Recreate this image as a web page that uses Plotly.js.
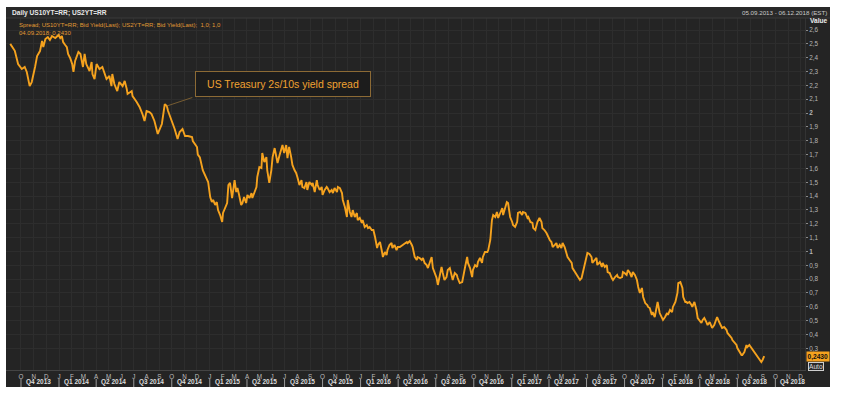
<!DOCTYPE html>
<html><head><meta charset="utf-8">
<script src="https://cdn.plot.ly/plotly-3.0.1.min.js"></script>
<style>html,body{margin:0;padding:0;background:#fff;}#chart{width:845px;height:397px;}</style>
</head><body><div id="chart"></div>
<script>
const dates = [
'2013-09-05','2013-09-16','2013-09-24','2013-10-03','2013-10-10','2013-10-15','2013-10-22','2013-10-27','2013-11-04','2013-11-09',
'2013-11-16','2013-11-21','2013-11-24','2013-11-29','2013-12-05','2013-12-10','2013-12-15','2013-12-23','2013-12-31','2014-01-04',
'2014-01-08','2014-01-11','2014-01-16','2014-01-20','2014-01-23','2014-01-28','2014-02-02','2014-02-05','2014-02-09','2014-02-17',
'2014-02-22','2014-02-26','2014-02-28','2014-03-04','2014-03-08','2014-03-16','2014-03-21','2014-03-23','2014-03-28','2014-04-02',
'2014-04-09','2014-04-16','2014-04-26','2014-05-03','2014-05-08','2014-05-10','2014-05-15','2014-05-22','2014-05-27','2014-06-04',
'2014-06-09','2014-06-14','2014-06-16','2014-06-26','2014-06-28','2014-07-08','2014-07-15','2014-07-22','2014-07-27','2014-08-01',
'2014-08-08','2014-08-13','2014-08-20','2014-08-28','2014-09-07','2014-09-14','2014-09-19','2014-09-22','2014-10-01','2014-10-08',
'2014-10-15','2014-10-20','2014-10-27','2014-11-02','2014-11-09','2014-11-19','2014-11-21','2014-12-01','2014-12-03','2014-12-08',
'2014-12-15','2014-12-25','2014-12-28','2015-01-02','2015-01-06','2015-01-09','2015-01-14','2015-01-18','2015-01-21','2015-01-26',
'2015-01-31','2015-02-02','2015-02-12','2015-02-15','2015-02-19','2015-02-24','2015-02-26','2015-03-02','2015-03-06','2015-03-09',
'2015-03-13','2015-03-18','2015-03-21','2015-03-25','2015-03-30','2015-04-02','2015-04-07','2015-04-12','2015-04-14','2015-04-19',
'2015-04-24','2015-04-26','2015-05-01','2015-05-06','2015-05-08','2015-05-13','2015-05-18','2015-05-20','2015-05-25','2015-05-30',
'2015-06-02','2015-06-07','2015-06-12','2015-06-14','2015-06-19','2015-06-23','2015-06-26','2015-06-30','2015-07-05','2015-07-08',
'2015-07-12','2015-07-17','2015-07-20','2015-07-25','2015-07-29','2015-08-01','2015-08-06','2015-08-11','2015-08-13','2015-08-18',
'2015-08-23','2015-08-25','2015-08-30','2015-09-05','2015-09-07','2015-09-12','2015-09-17','2015-09-19','2015-09-24','2015-09-29',
'2015-10-01','2015-10-06','2015-10-11','2015-10-13','2015-10-18','2015-10-23','2015-10-26','2015-10-30','2015-11-05','2015-11-07',
'2015-11-12','2015-11-17','2015-11-19','2015-11-24','2015-11-29','2015-12-01','2015-12-06','2015-12-10','2015-12-13','2015-12-18',
'2015-12-23','2015-12-25','2015-12-30','2016-01-04','2016-01-06','2016-01-11','2016-01-16','2016-01-19','2016-01-23','2016-01-28',
'2016-02-01','2016-02-05','2016-02-10','2016-02-12','2016-02-17','2016-02-22','2016-02-24','2016-02-29','2016-03-04','2016-03-06',
'2016-03-11','2016-03-16','2016-03-18','2016-03-23','2016-03-28','2016-03-31','2016-04-05','2016-04-12','2016-04-22','2016-04-24',
'2016-04-29','2016-05-04','2016-05-06','2016-05-11','2016-05-16','2016-05-18','2016-05-23','2016-05-28','2016-05-31','2016-06-04',
'2016-06-09','2016-06-12','2016-06-16','2016-06-21','2016-06-24','2016-06-29','2016-07-03','2016-07-06','2016-07-10','2016-07-15',
'2016-07-18','2016-07-22','2016-07-27','2016-07-30','2016-08-04','2016-08-09','2016-08-11','2016-08-16','2016-08-21','2016-08-23',
'2016-08-28','2016-09-03','2016-09-05','2016-09-10','2016-09-15','2016-09-17','2016-09-22','2016-09-27','2016-09-29','2016-10-04',
'2016-10-09','2016-10-11','2016-10-16','2016-10-21','2016-10-23','2016-10-28','2016-11-03','2016-11-05','2016-11-10','2016-11-14',
'2016-11-17','2016-11-22','2016-11-26','2016-11-29','2016-12-04','2016-12-09','2016-12-11','2016-12-16','2016-12-20','2016-12-23',
'2016-12-28','2017-01-02','2017-01-04','2017-01-09','2017-01-14','2017-01-16','2017-01-21','2017-01-26','2017-01-28','2017-02-03',
'2017-02-08','2017-02-10','2017-02-15','2017-02-20','2017-02-22','2017-02-27','2017-03-02','2017-03-04','2017-03-09','2017-03-14',
'2017-03-16','2017-03-21','2017-03-26','2017-03-28','2017-04-03','2017-04-07','2017-04-10','2017-04-15','2017-04-19','2017-04-22',
'2017-04-27','2017-05-01','2017-05-04','2017-05-09','2017-05-13','2017-05-16','2017-05-21','2017-05-26','2017-05-28','2017-06-03',
'2017-06-07','2017-06-10','2017-06-15','2017-06-19','2017-06-22','2017-06-27','2017-07-01','2017-07-03','2017-07-08','2017-07-13',
'2017-07-15','2017-07-20','2017-07-25','2017-07-27','2017-08-02','2017-08-07','2017-08-09','2017-08-14','2017-08-19','2017-08-21',
'2017-08-26','2017-08-31','2017-09-03','2017-09-08','2017-09-13','2017-09-15','2017-09-20','2017-09-25','2017-09-27','2017-10-01',
'2017-10-06','2017-10-09','2017-10-14','2017-10-18','2017-10-21','2017-10-26','2017-10-31','2017-11-03','2017-11-07','2017-11-12',
'2017-11-15','2017-11-20','2017-11-25','2017-11-27','2017-12-01','2017-12-06','2017-12-08','2017-12-13','2017-12-18','2017-12-20',
'2017-12-25','2017-12-30','2018-01-02','2018-01-07','2018-01-12','2018-01-14','2018-01-19','2018-01-24','2018-01-26','2018-02-01',
'2018-02-06','2018-02-08','2018-02-13','2018-02-18','2018-02-20','2018-02-25','2018-02-28','2018-03-02','2018-03-07','2018-03-12',
'2018-03-14','2018-03-19','2018-03-24','2018-03-27','2018-03-31','2018-04-05','2018-04-08','2018-04-12','2018-04-17','2018-04-20',
'2018-04-25','2018-04-29','2018-05-01','2018-05-06','2018-05-11','2018-05-13','2018-05-18','2018-05-23','2018-05-25','2018-05-30',
'2018-06-05','2018-06-07','2018-06-12','2018-06-17','2018-06-19','2018-06-24','2018-06-29','2018-07-01','2018-07-06','2018-07-11',
'2018-07-13','2018-07-18','2018-07-23','2018-07-25','2018-07-30','2018-08-04','2018-08-07','2018-08-12','2018-08-16','2018-08-19',
'2018-08-24','2018-08-28','2018-08-31','2018-09-04'
];
const spread = [
2.50,2.45,2.354,2.318,2.333,2.297,2.195,2.224,2.333,2.412,
2.448,2.521,2.477,2.535,2.549,2.528,2.557,2.542,2.564,2.542,
2.557,2.513,2.492,2.477,2.427,2.398,2.354,2.297,2.376,2.441,
2.427,2.369,2.333,2.427,2.354,2.304,2.369,2.282,2.246,2.354,
2.318,2.333,2.246,2.268,2.195,2.282,2.210,2.159,2.224,2.195,
2.232,2.174,2.138,2.159,2.123,2.080,2.044,1.993,1.943,2.015,
2.008,1.993,1.943,1.849,1.921,2.065,2.051,2.015,1.943,1.885,
1.812,1.863,1.885,1.834,1.834,1.827,1.798,1.755,1.700,1.680,
1.588,1.516,1.502,1.393,1.357,1.372,1.336,1.357,1.299,1.263,
1.213,1.278,1.350,1.480,1.495,1.386,1.444,1.516,1.429,1.458,
1.408,1.336,1.350,1.393,1.350,1.408,1.386,1.422,1.386,1.422,
1.466,1.538,1.610,1.603,1.711,1.646,1.682,1.588,1.495,1.588,
1.682,1.747,1.646,1.639,1.697,1.747,1.769,1.711,1.769,1.675,
1.755,1.682,1.625,1.588,1.567,1.538,1.480,1.516,1.466,1.458,
1.502,1.444,1.502,1.480,1.495,1.429,1.516,1.480,1.444,1.466,
1.408,1.444,1.466,1.458,1.429,1.444,1.422,1.458,1.429,1.466,
1.458,1.422,1.372,1.321,1.249,1.372,1.285,1.249,1.299,1.249,
1.278,1.227,1.242,1.206,1.227,1.177,1.191,1.169,1.177,1.155,
1.155,1.104,1.025,1.047,1.068,0.996,0.960,0.996,0.974,1.010,
1.047,1.061,1.025,1.047,1.010,1.032,1.032,1.047,1.068,1.061,
1.075,1.047,1.032,0.960,0.938,0.960,0.953,0.938,0.953,0.917,
0.902,0.880,0.924,0.960,0.880,0.844,0.808,0.758,0.830,0.888,
0.844,0.794,0.815,0.866,0.880,0.830,0.794,0.844,0.830,0.808,
0.772,0.779,0.815,0.888,0.960,0.917,0.880,0.815,0.866,0.902,
0.888,0.924,0.953,0.917,0.960,0.996,0.996,1.010,1.083,1.227,
1.263,1.249,1.285,1.242,1.278,1.314,1.263,1.321,1.357,1.350,
1.249,1.213,1.191,1.177,1.213,1.278,1.285,1.263,1.285,1.278,
1.242,1.249,1.213,1.206,1.169,1.155,1.206,1.213,1.242,1.213,
1.169,1.155,1.133,1.119,1.083,1.068,1.032,1.047,1.061,1.025,
1.047,1.025,1.061,1.032,0.996,0.960,0.938,0.917,0.880,0.851,
0.830,0.815,0.794,0.808,0.844,0.917,0.960,0.989,0.982,0.960,
0.917,0.938,0.953,0.902,0.924,0.888,0.917,0.888,0.902,0.851,
0.844,0.808,0.794,0.815,0.830,0.815,0.808,0.815,0.851,0.844,
0.830,0.866,0.844,0.815,0.851,0.830,0.794,0.743,0.700,0.736,
0.671,0.627,0.613,0.599,0.591,0.541,0.562,0.526,0.599,0.635,
0.555,0.519,0.505,0.526,0.555,0.541,0.577,0.562,0.599,0.635,
0.700,0.772,0.779,0.736,0.671,0.635,0.635,0.627,0.635,0.613,
0.599,0.635,0.577,0.519,0.505,0.483,0.505,0.519,0.490,0.468,
0.490,0.454,0.447,0.468,0.519,0.526,0.490,0.454,0.447,0.454,
0.432,0.411,0.396,0.375,0.360,0.339,0.324,0.302,0.273,0.252,
0.252,0.273,0.324,0.309,0.324,0.302,0.288,0.266,0.252,0.237,
0.216,0.201,0.216,0.243
];
const yTickVals = [2.6,2.5,2.4,2.3,2.2,2.1,2.0,1.9,1.8,1.7,1.6,1.5,1.4,1.3,1.2,1.1,1.0,0.9,0.8,0.7,0.6,0.5,0.4,0.3];
const yTickText = ['2,6','2,5','2,4','2,3','2,2','2,1','<b>2</b>','1,9','1,8','1,7','1,6','1,5','1,4','1,3','1,2','1,1','<b>1</b>','0,9','0,8','0,7','0,6','0,5','0,4','0,3'];
const monthLetters = ['J','F','M','A','M','J','J','A','S','O','N','D'];
const quarterStarts = ['2013-10-01','2014-01-01','2014-04-01','2014-07-01','2014-10-01','2015-01-01','2015-04-01','2015-07-01','2015-10-01',
  '2016-01-01','2016-04-01','2016-07-01','2016-10-01','2017-01-01','2017-04-01','2017-07-01','2017-10-01','2018-01-01','2018-04-01','2018-07-01','2018-10-01'];
const quarterLabels = ['Q4 2013','Q1 2014','Q2 2014','Q3 2014','Q4 2014','Q1 2015','Q2 2015','Q3 2015','Q4 2015',
  'Q1 2016','Q2 2016','Q3 2016','Q4 2016','Q1 2017','Q2 2017','Q3 2017','Q4 2017','Q1 2018','Q2 2018','Q3 2018','Q4 2018'];
const headerTitle = 'Daily US10YT=RR; US2YT=RR';
const seriesLabel = 'Spread; US10YT=RR; Bid Yield(Last); US2YT=RR; Bid Yield(Last);  1,0; 1,0';
const lastLabel = '04.09.2018; 0,2430';
const rangeLabel = '05.09.2013 - 06.12.2018 (EST)';
const calloutText = 'US Treasury 2s/10s yield spread';
const calloutDate = '2014-09-19';

// month ticks
const monthTickVals = [], monthTickText = [];
for (let y = 2013, m = 9; y < 2018 || (y === 2018 && m <= 11); ) {
  monthTickVals.push(y + '-' + String(m + 1).padStart(2, '0') + '-01');
  monthTickText.push(monthLetters[m]);
  m++; if (m > 11) { m = 0; y++; }
}

// pixel -> paper helpers (plot area x 6..805, y 18..370)
const W = 845, H = 397, ML = 6, MR = 40, MT = 18, MB = 27;
const PW = W - ML - MR, PH = H - MT - MB;
const px = X => (X - ML) / PW;
const py = Y => (H - MB - Y) / PH;

const FONT = 'Liberation Sans, Arial, sans-serif';
const orange = '#f5a21e';

const shapes = [
  {type:'rect', xref:'paper', yref:'paper', x0:px(6), x1:px(830), y0:py(387), y1:py(7), fillcolor:'#242424', line:{width:0}, layer:'below'},
  {type:'rect', xref:'paper', yref:'paper', x0:px(6), x1:px(830), y0:py(18), y1:py(7), fillcolor:'#292929', line:{width:0}, layer:'below'},
  {type:'line', xref:'paper', yref:'paper', x0:px(6), x1:px(830), y0:py(18), y1:py(18), line:{color:'#3a3a3a', width:1}}
];
quarterStarts.forEach(d => shapes.push({type:'line', xref:'x', yref:'paper', x0:d, x1:d, y0:py(379), y1:py(387), line:{color:'#9a9a9a', width:1}}));

const iCallout = dates.indexOf(calloutDate);
const lastVal = spread[spread.length - 1];

const annotations = [
  {xref:'paper', yref:'paper', x:px(10), y:py(12.5), xanchor:'left', yanchor:'middle', showarrow:false, text:headerTitle, font:{family:FONT, size:6.6, color:'#e6e6e6', weight:'bold'}},
  {xref:'paper', yref:'paper', x:px(829), y:py(12.5), xanchor:'right', yanchor:'middle', showarrow:false, text:rangeLabel, font:{family:FONT, size:6.2, color:'#c8c8c8'}},
  {xref:'paper', yref:'paper', x:px(17), y:py(25), xanchor:'left', yanchor:'middle', showarrow:false, text:seriesLabel, font:{family:FONT, size:6, color:'#e09a34'}},
  {xref:'paper', yref:'paper', x:px(17), y:py(33), xanchor:'left', yanchor:'middle', showarrow:false, text:lastLabel, font:{family:FONT, size:6, color:'#e09a34'}},
  {xref:'paper', yref:'paper', x:px(808), y:py(20.5), xanchor:'left', yanchor:'middle', showarrow:false, text:'<b>Value</b>', font:{family:FONT, size:6.6, color:'#eeeeee'}},
  {xref:'paper', yref:'y', x:px(806), y:lastVal, xanchor:'left', yanchor:'middle', showarrow:false, text:'<b>' + lastVal.toFixed(4).replace('.', ',') + '</b>', bgcolor:orange, borderpad:0.5, font:{family:FONT, size:6.6, color:'#111'}},
  {xref:'paper', yref:'paper', x:px(808), y:py(366), xanchor:'left', yanchor:'middle', showarrow:false, text:'Auto', bgcolor:'#2a2a2a', bordercolor:'#cfcfcf', borderwidth:1, borderpad:0, font:{family:FONT, size:6.6, color:'#dddddd'}},
  {xref:'paper', yref:'paper', x:px(283), y:py(84), xanchor:'center', yanchor:'middle', showarrow:false, text:calloutText, width:170, height:20, borderpad:2, bordercolor:'#8c6a35', borderwidth:1, bgcolor:'#1c1c1c', font:{family:FONT, size:10.5, color:'#f0a232'}},
  {xref:'x', yref:'y', x:dates[iCallout], y:spread[iCallout], text:'', showarrow:true, arrowhead:0, arrowwidth:0.8, arrowcolor:'#8c6a35', ax:27, ay:-9}
];
quarterStarts.forEach((d, i) => annotations.push({xref:'x', yref:'paper', x:d, y:py(382.5), xanchor:'left', yanchor:'middle', xshift:3, showarrow:false, text:'<b>' + quarterLabels[i] + '</b>', font:{family:FONT, size:6.5, color:'#dcdcdc'}}));

const trace = {type:'scatter', mode:'lines', x:dates, y:spread, line:{color:orange, width:1.9}, hoverinfo:'skip'};

const layout = {
  width:W, height:H,
  margin:{l:ML, r:MR, t:MT, b:MB, pad:0},
  paper_bgcolor:'#ffffff', plot_bgcolor:'#1b1b1b',
  showlegend:false,
  xaxis:{type:'date', range:['2013-08-25 17:00','2018-12-11 18:00'], tickmode:'array', tickvals:monthTickVals, ticktext:monthTickText,
    showgrid:true, gridcolor:'#2d2d2d', gridwidth:1, zeroline:false, ticks:'', showline:true, linecolor:'#444', linewidth:1,
    tickfont:{family:FONT, size:6.3, color:'#bdbdbd'}, fixedrange:true},
  yaxis:{side:'right', range:[0.1434, 2.687], tickmode:'array', tickvals:yTickVals, ticktext:yTickText,
    showgrid:true, gridcolor:'#2d2d2d', gridwidth:1, zeroline:false, ticks:'outside', ticklen:2, tickcolor:'#8a8a8a',
    showline:true, linecolor:'#333', tickfont:{family:FONT, size:6.4, color:'#b5b5b5'}, fixedrange:true},
  shapes:shapes, annotations:annotations
};
Plotly.newPlot('chart', [trace], layout, {staticPlot:true, displayModeBar:false});
</script></body></html>
